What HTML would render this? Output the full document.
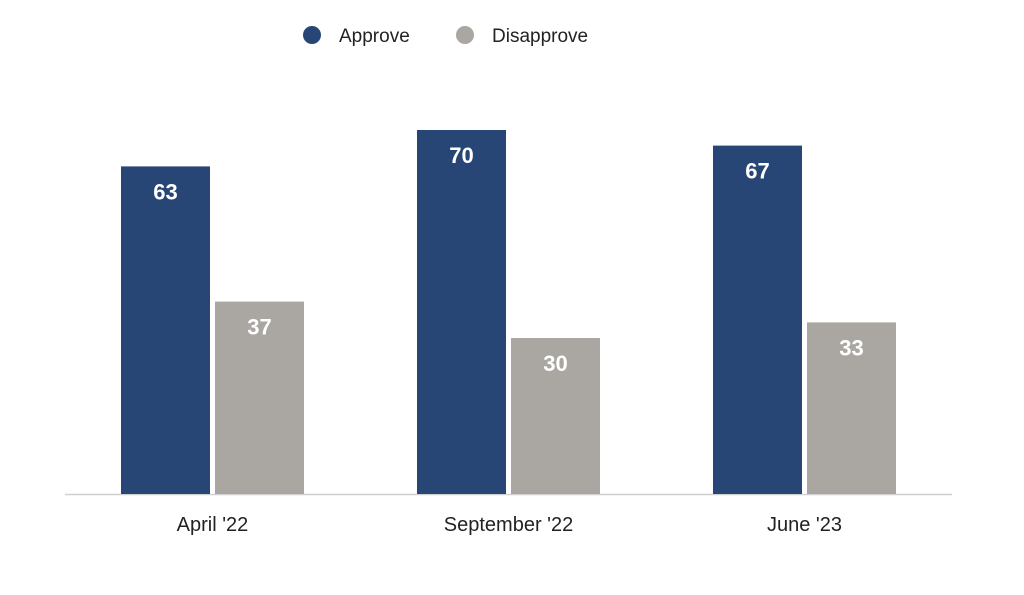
<!DOCTYPE html>
<html><head><meta charset="utf-8"><style>
html,body{margin:0;padding:0;background:#fff;}
svg{display:block;font-family:"Liberation Sans",Arial,sans-serif;}
</style></head><body>
<svg width="1024" height="595" viewBox="0 0 1024 595">
<g>
  <circle cx="312" cy="35" r="9" fill="#284675"/>
  <text x="339" y="42" font-size="19" fill="#222">Approve</text>
  <circle cx="465" cy="35" r="9" fill="#aaa6a2"/>
  <text x="492" y="42" font-size="19" fill="#222">Disapprove</text>
</g>
<line x1="65" y1="494.5" x2="952" y2="494.5" stroke="#d0d0d0" stroke-width="1.5"/>
<g id="bars"></g>
<g id="xlabels"></g>
</svg>
<script>
const categories = ["April '22", "September '22", "June '23"];
const approveValues = [63, 70, 67];
const disapproveValues = [37, 30, 33];

const NS = "http://www.w3.org/2000/svg";
const baseY = 494, pxPerUnit = 5.2, groupStart = 121, groupStep = 296, barW = 89, gap = 5;
function yScale(v){ return baseY - v * pxPerUnit; }
function xGroup(i){ return groupStart + i * groupStep; }
const bars = document.getElementById('bars');
const xl = document.getElementById('xlabels');
function addBar(x, v, color, name){
  const r = document.createElementNS(NS, 'rect');
  r.setAttribute('x', x); r.setAttribute('y', yScale(v));
  r.setAttribute('width', barW); r.setAttribute('height', baseY - yScale(v));
  r.setAttribute('fill', color);
  
  
  bars.appendChild(r);
  const t = document.createElementNS(NS, 'text');
  t.setAttribute('x', x + barW / 2); t.setAttribute('y', yScale(v) + 33);
  t.setAttribute('text-anchor', 'middle'); t.setAttribute('font-size', '22');
  t.setAttribute('font-weight', 'bold'); t.setAttribute('fill', '#fff');
  t.textContent = v;
  
  
  bars.appendChild(t);
}
categories.forEach((c, i) => {
  const x = xGroup(i);
  addBar(x, approveValues[i], '#284675', 'bar-approve-' + i);
  addBar(x + barW + gap, disapproveValues[i], '#aaa6a2', 'bar-disapprove-' + i);
  const t = document.createElementNS(NS, 'text');
  t.setAttribute('x', x + barW + gap / 2); t.setAttribute('y', 531);
  t.setAttribute('text-anchor', 'middle'); t.setAttribute('font-size', '20');
  t.setAttribute('fill', '#222');
  t.textContent = c;
  
  
  xl.appendChild(t);
});
</script>
</body></html>
